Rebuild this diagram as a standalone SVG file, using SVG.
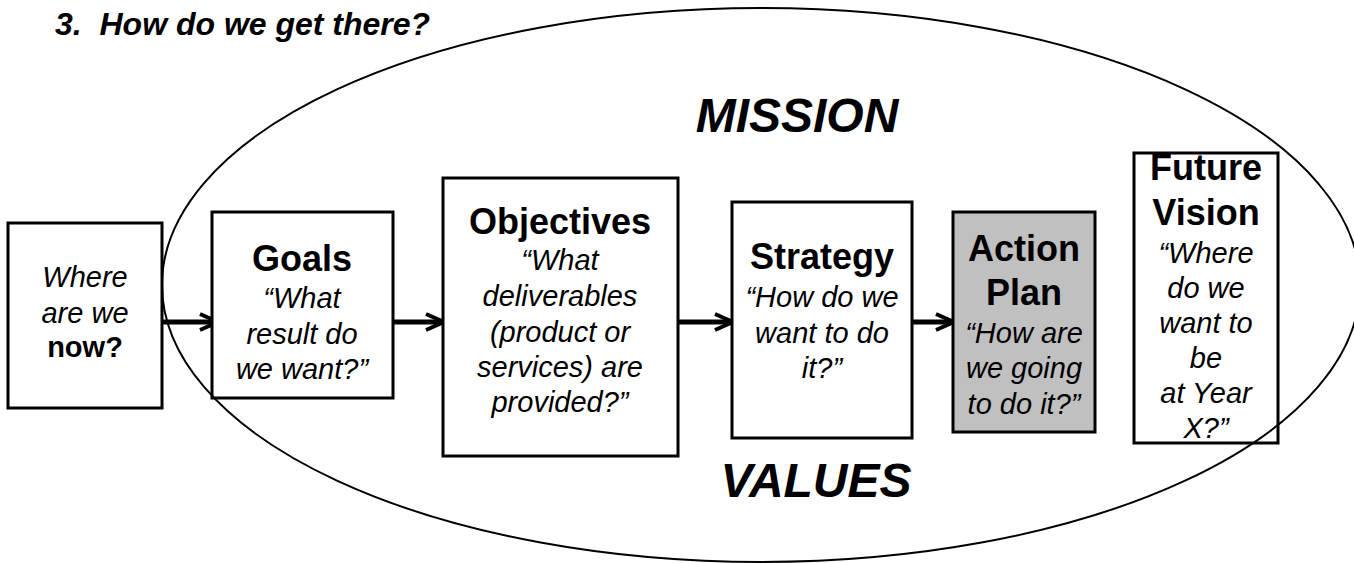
<svg xmlns="http://www.w3.org/2000/svg" width="1354" height="563" viewBox="0 0 1354 563">
<style>
text{font-family:"Liberation Sans",Arial,sans-serif;fill:#000;text-anchor:middle}
.box{fill:#fff;stroke:#000;stroke-width:3}
.gray{fill:#c0c0c0}
.h{font-weight:bold;font-size:36px}
.q{font-style:italic;font-size:29px}
.b{font-weight:bold;font-style:normal}
.big{font-weight:bold;font-style:italic;font-size:48px}
.title{font-weight:bold;font-style:italic;font-size:32px;text-anchor:start;white-space:pre}
.conn{stroke:#000;stroke-width:5;fill:none}
</style>
<defs>
<marker id="chev" markerUnits="userSpaceOnUse" viewBox="-22 -12 24 24" markerWidth="24" markerHeight="24" refX="0" refY="0" orient="auto">
<path d="M-18,-8 L0,0 L-18,8" fill="none" stroke="#000" stroke-width="4"/>
</marker>
</defs>
<text class="title" x="55" y="35" xml:space="preserve">3.  How do we get there?</text>
<g id="connectors">
<line class="conn" x1="162" y1="322" x2="218" y2="322" marker-end="url(#chev)"/>
<line class="conn" x1="393" y1="322" x2="444" y2="322" marker-end="url(#chev)"/>
<line class="conn" x1="678" y1="322" x2="733" y2="322" marker-end="url(#chev)"/>
<line class="conn" x1="912" y1="322" x2="954" y2="322" marker-end="url(#chev)"/>
</g>
<g id="now">
<rect class="box" x="8" y="223" width="154" height="185"/>
<text class="q" x="85" y="287">Where</text>
<text class="q" x="85" y="323">are we</text>
<text class="q b" x="85" y="357">now?</text>
</g>
<g id="goals">
<rect class="box" x="212" y="212" width="181" height="186"/>
<text class="h" x="302" y="271">Goals</text>
<text class="q" x="302" y="308">“What</text>
<text class="q" x="302" y="344">result do</text>
<text class="q" x="302" y="379">we want?”</text>
</g>
<g id="objectives">
<rect class="box" x="443" y="178" width="235" height="278"/>
<text class="h" x="560" y="234">Objectives</text>
<text class="q" x="560" y="270">“What</text>
<text class="q" x="560" y="306">deliverables</text>
<text class="q" x="560" y="342">(product or</text>
<text class="q" x="560" y="377">services) are</text>
<text class="q" x="560" y="412">provided?”</text>
</g>
<g id="strategy">
<rect class="box" x="732" y="202" width="180" height="236"/>
<text class="h" x="822" y="269">Strategy</text>
<text class="q" x="822" y="307">“How do we</text>
<text class="q" x="822" y="343">want to do</text>
<text class="q" x="822" y="378">it?”</text>
</g>
<g id="action-plan">
<rect class="box gray" x="953" y="212" width="142" height="220"/>
<text class="h" x="1024" y="261">Action</text>
<text class="h" x="1024" y="305">Plan</text>
<text class="q" x="1024" y="343">“How are</text>
<text class="q" x="1024" y="378">we going</text>
<text class="q" x="1024" y="414">to do it?”</text>
</g>
<g id="future-vision">
<rect class="box" x="1134" y="153" width="144" height="290"/>
<text class="h" x="1206" y="180">Future</text>
<text class="h" x="1206" y="225">Vision</text>
<text class="q" x="1206" y="263">“Where</text>
<text class="q" x="1206" y="298">do we</text>
<text class="q" x="1206" y="333">want to</text>
<text class="q" x="1206" y="368">be</text>
<text class="q" x="1206" y="403">at Year</text>
<text class="q" x="1206" y="438">X?”</text>
</g>
<g id="ellipse">
<ellipse cx="761" cy="285" rx="599" ry="277" fill="none" stroke="#000" stroke-width="2"/>
<text class="big" x="797" y="132">MISSION</text>
<text class="big" x="816" y="497">VALUES</text>
</g>
</svg>
